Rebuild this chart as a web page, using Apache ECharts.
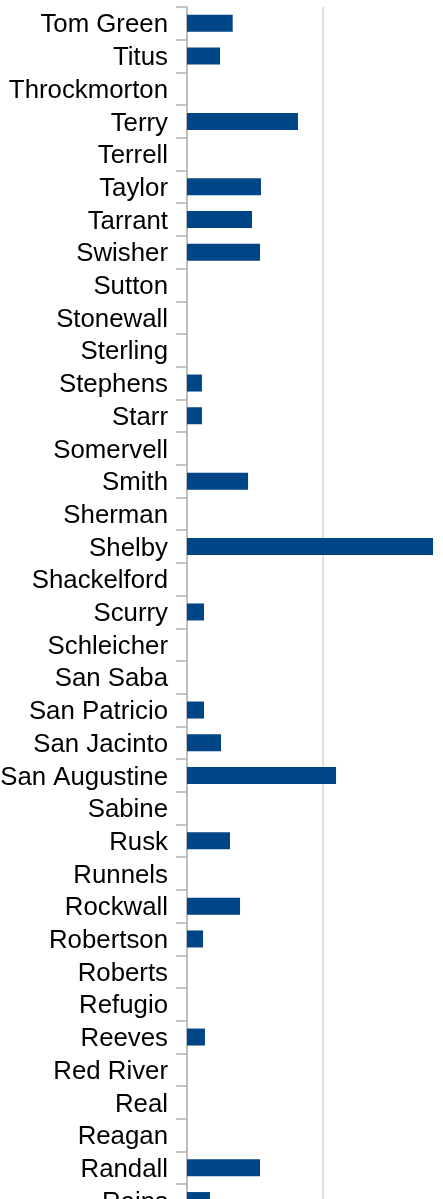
<!DOCTYPE html>
<html>
<head>
<meta charset="utf-8">
<script src="https://cdn.jsdelivr.net/npm/echarts@6/dist/echarts.min.js"></script>
<style>
  html, body { margin: 0; padding: 0; overflow: hidden; background: #fff; width: 443px; height: 1199px; }
  #chart { position: absolute; left: 0; top: 0; width: 620px; height: 1240px; }
</style>
</head>
<body>
<div id="chart"></div>
<script>
// Counties, top to bottom
const counties = [
  'Tom Green', 'Titus', 'Throckmorton', 'Terry', 'Terrell', 'Taylor', 'Tarrant',
  'Swisher', 'Sutton', 'Stonewall', 'Sterling', 'Stephens', 'Starr', 'Somervell',
  'Smith', 'Sherman', 'Shelby', 'Shackelford', 'Scurry', 'Schleicher', 'San Saba',
  'San Patricio', 'San Jacinto', 'San Augustine', 'Sabine', 'Rusk', 'Runnels',
  'Rockwall', 'Robertson', 'Roberts', 'Refugio', 'Reeves', 'Red River', 'Real',
  'Reagan', 'Randall', 'Rains'
];

// Value per county
const values = [
  3.36, 2.43, 0, 8.16, 0, 5.44, 4.78,
  5.37, 0, 0, 0, 1.10, 1.10, 0,
  4.49, 0, 18.09, 0, 1.25, 0, 0,
  1.25, 2.50, 10.96, 0, 3.16, 0,
  3.90, 1.18, 0, 0, 1.32, 0, 0,
  0, 5.37, 1.69
];

// Value axis scale
const xMin = 0;
const xMax = 30;
const xStep = 10;

const chart = echarts.init(document.getElementById('chart'), null, { renderer: 'canvas' });

const bandHeight = 32.7;

chart.setOption({
  animation: false,
  backgroundColor: '#ffffff',
  grid: {
    left: 187,
    top: 7,
    width: 408,
    height: bandHeight * counties.length,
    containLabel: false,
    outerBoundsMode: 'none'
  },
  xAxis: {
    type: 'value',
    min: xMin,
    max: xMax,
    interval: xStep,
    axisLine: { show: false },
    axisTick: { show: false },
    axisLabel: { show: false },
    splitLine: { show: true, lineStyle: { color: '#d4d4d4', width: 1.5 } }
  },
  yAxis: {
    type: 'category',
    data: counties,
    inverse: true,
    axisLine: { show: true, lineStyle: { color: '#b3b3b3', width: 1.5 } },
    axisTick: { show: true, interval: 0, length: 11, lineStyle: { color: '#b3b3b3', width: 1.5 } },
    axisLabel: {
      interval: 0,
      hideOverlap: false,
      margin: 19,
      fontFamily: 'Liberation Sans',
      fontSize: 25.8,
      color: '#000000',
      formatter: (name) => '{n|' + name + '}',
      rich: {
        n: {
          fontFamily: 'Liberation Sans',
          fontSize: 25.8,
          color: '#000000',
          padding: [4, 0, 0, 0]
        }
      }
    },
    splitLine: { show: false }
  },
  series: [{
    type: 'bar',
    data: values,
    barWidth: 17,
    itemStyle: { color: '#004586' }
  }]
});
</script>
</body>
</html>
